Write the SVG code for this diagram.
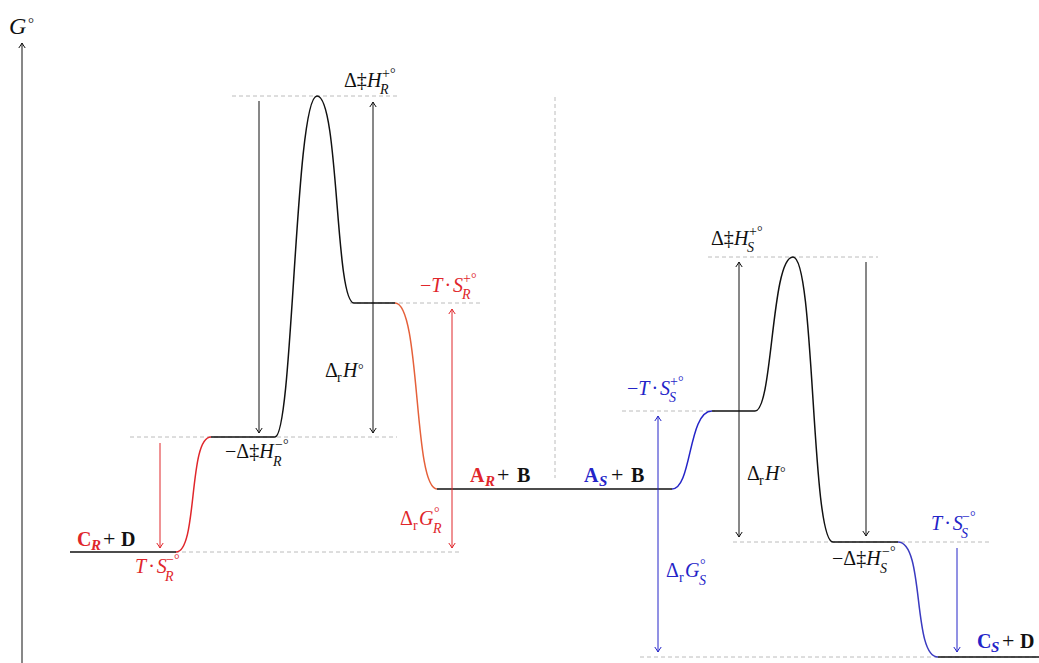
<svg xmlns="http://www.w3.org/2000/svg" width="1039" height="663" viewBox="0 0 1039 663">
<style>
text{font-family:"Liberation Serif","Times New Roman",serif;font-size:20px;fill:#111}
.i{font-style:italic}
.s{font-size:14px}
.b{font-weight:bold;font-size:20px}
.pl{font-size:22px}
.bs{font-weight:bold;font-style:italic;font-size:15px}
.r{fill:#e0262b}
.u{fill:#2424c8}
.dash{stroke:#b4b4b4;stroke-width:0.9;stroke-dasharray:4 3;fill:none}
.cur{fill:none;stroke-width:1.5}
.ak{stroke:#111;stroke-width:1;fill:none}
.ar{stroke:#e0262b;stroke-width:1;fill:none}
.au{stroke:#2424c8;stroke-width:1;fill:none}
</style>
<defs>
<marker id="hk" viewBox="-6 -4 8 8" markerWidth="8" markerHeight="8" refX="0" refY="0" orient="auto-start-reverse" markerUnits="userSpaceOnUse"><path d="M-5,-3.2 Q-1.5,-0.8 0,0 Q-1.5,0.8 -5,3.2" fill="none" stroke="#111" stroke-width="1"/></marker>
<marker id="hr" viewBox="-6 -4 8 8" markerWidth="8" markerHeight="8" refX="0" refY="0" orient="auto-start-reverse" markerUnits="userSpaceOnUse"><path d="M-5,-3.2 Q-1.5,-0.8 0,0 Q-1.5,0.8 -5,3.2" fill="none" stroke="#e0262b" stroke-width="1"/></marker>
<marker id="hu" viewBox="-6 -4 8 8" markerWidth="8" markerHeight="8" refX="0" refY="0" orient="auto-start-reverse" markerUnits="userSpaceOnUse"><path d="M-5,-3.2 Q-1.5,-0.8 0,0 Q-1.5,0.8 -5,3.2" fill="none" stroke="#2424c8" stroke-width="1"/></marker>
</defs>
<rect width="1039" height="663" fill="#fff"/>

<g id="axis">
<line x1="22" y1="663" x2="22" y2="43" class="ak" marker-end="url(#hk)"/>
<text x="9" y="34" class="i" style="font-size:24px">G</text>
<text x="28" y="28" style="font-size:15px">°</text>
</g>

<g id="guides">
<line class="dash" x1="232" y1="96" x2="400" y2="96"/>
<line class="dash" x1="130" y1="437" x2="397" y2="437"/>
<line class="dash" x1="175" y1="552" x2="462" y2="552"/>
<line class="dash" x1="350" y1="303" x2="480" y2="303"/>
<line class="dash" x1="555" y1="97" x2="555" y2="478"/>
<line class="dash" x1="622" y1="411" x2="715" y2="411"/>
<line class="dash" x1="708" y1="257" x2="878" y2="257"/>
<line class="dash" x1="733" y1="542" x2="990" y2="542"/>
<line class="dash" x1="640" y1="657" x2="1039" y2="657"/>
</g>

<g id="profile">
<path class="cur" stroke="#111" d="M70,552 H176"/>
<path class="cur" stroke="#e0262b" d="M176,552 C198,552 188,437 211,437"/>
<path class="cur" stroke="#111" d="M211,437 H275 C293,437 295,96 317,96 C339,96 335,303 354,303 H395"/>
<path class="cur" stroke="#e5603a" d="M395,303 C421,303 413,489 437,489"/>
<path class="cur" stroke="#111" d="M437,489 H672"/>
<path class="cur" stroke="#2424c8" d="M672,489 C692,489 688,411 712,411"/>
<path class="cur" stroke="#111" d="M712,411 H755 C773,411 771,257 793,257 C815,257 811,542 833,542 H898"/>
<path class="cur" stroke="#3a3ac0" d="M898,542 C925,542 912,657 938,657"/>
<path class="cur" stroke="#111" d="M938,657 H1039"/>
</g>

<g id="connectors">
<line class="ak" x1="259" y1="101" x2="259" y2="433" marker-end="url(#hk)"/>
<line class="ak" x1="373" y1="102" x2="373" y2="433" marker-start="url(#hk)" marker-end="url(#hk)"/>
<line class="ar" x1="160" y1="443" x2="160" y2="548" marker-end="url(#hr)"/>
<line class="ar" x1="452" y1="309" x2="452" y2="548" marker-start="url(#hr)" marker-end="url(#hr)"/>
<line class="au" x1="658" y1="416" x2="658" y2="652" marker-start="url(#hu)" marker-end="url(#hu)"/>
<line class="ak" x1="739" y1="262" x2="739" y2="537" marker-start="url(#hk)" marker-end="url(#hk)"/>
<line class="ak" x1="866" y1="262" x2="866" y2="536" marker-end="url(#hk)"/>
<line class="au" x1="957" y1="548" x2="957" y2="652" marker-end="url(#hu)"/>
</g>

<g id="label-dHR-plus">
<text x="344" y="87">Δ‡<tspan class="i">H</tspan></text>
<text x="382" y="78" class="s">+°</text>
<text x="380" y="94" class="s i">R</text>
</g>
<g id="label-dHR-minus">
<text x="225" y="458">−Δ‡<tspan class="i">H</tspan></text>
<text x="275" y="449" class="s">−°</text>
<text x="273" y="466" class="s i">R</text>
</g>
<g id="label-drH-left">
<text x="325" y="377">Δ</text>
<text x="337" y="382" class="s">r</text>
<text x="343" y="377" class="i">H</text>
<text x="358" y="374" class="s">°</text>
</g>
<g id="label-CR">
<text x="77" y="546" class="b r">C</text>
<text x="91" y="550" class="bs r">R</text>
<text x="103" y="546" class="pl">+</text>
<text x="121" y="546" class="b">D</text>
</g>
<g id="label-TSR-minus">
<text x="135" y="573" class="i r">T<tspan dx="2" style="font-style:normal">·</tspan><tspan dx="2">S</tspan></text>
<text x="166" y="564" class="s r">−°</text>
<text x="165" y="581" class="s i r">R</text>
</g>
<g id="label-TSR-plus">
<text x="420" y="292" class="r">−<tspan class="i">T</tspan><tspan dx="2">·</tspan><tspan dx="2" class="i">S</tspan></text>
<text x="463" y="283" class="s r">+°</text>
<text x="462" y="299" class="s i r">R</text>
</g>
<g id="label-drGR">
<text x="400" y="525" class="r">Δ</text>
<text x="413" y="530" class="s r">r</text>
<text x="419" y="525" class="i r">G</text>
<text x="434" y="517" class="s r">°</text>
<text x="433" y="533" class="s i r">R</text>
</g>
<g id="label-AR">
<text x="470" y="482" class="b r">A</text>
<text x="485" y="486" class="bs r">R</text>
<text x="497" y="482" class="pl">+</text>
<text x="517" y="482" class="b">B</text>
</g>
<g id="label-AS">
<text x="584" y="482" class="b u">A</text>
<text x="599" y="486" class="bs u">S</text>
<text x="611" y="482" class="pl">+</text>
<text x="631" y="482" class="b">B</text>
</g>
<g id="label-TSS-plus">
<text x="627" y="395" class="u">−<tspan class="i">T</tspan><tspan dx="2">·</tspan><tspan dx="2" class="i">S</tspan></text>
<text x="670" y="386" class="s u">+°</text>
<text x="669" y="402" class="s i u">S</text>
</g>
<g id="label-dHS-plus">
<text x="711" y="245">Δ‡<tspan class="i">H</tspan></text>
<text x="749" y="236" class="s">+°</text>
<text x="747" y="252" class="s i">S</text>
</g>
<g id="label-drH-right">
<text x="747" y="480">Δ</text>
<text x="759" y="485" class="s">r</text>
<text x="765" y="480" class="i">H</text>
<text x="780" y="477" class="s">°</text>
</g>
<g id="label-drGS">
<text x="666" y="577" class="u">Δ</text>
<text x="679" y="582" class="s u">r</text>
<text x="685" y="577" class="i u">G</text>
<text x="700" y="569" class="s u">°</text>
<text x="699" y="585" class="s i u">S</text>
</g>
<g id="label-TSS-minus">
<text x="931" y="530" class="i u">T<tspan dx="2" style="font-style:normal">·</tspan><tspan dx="2">S</tspan></text>
<text x="962" y="521" class="s u">−°</text>
<text x="961" y="538" class="s i u">S</text>
</g>
<g id="label-dHS-minus">
<text x="832" y="565">−Δ‡<tspan class="i">H</tspan></text>
<text x="882" y="556" class="s">−°</text>
<text x="880" y="573" class="s i">S</text>
</g>
<g id="label-CS">
<text x="977" y="648" class="b u">C</text>
<text x="991" y="652" class="bs u">S</text>
<text x="1002" y="648" class="pl">+</text>
<text x="1020" y="648" class="b">D</text>
</g>
</svg>
